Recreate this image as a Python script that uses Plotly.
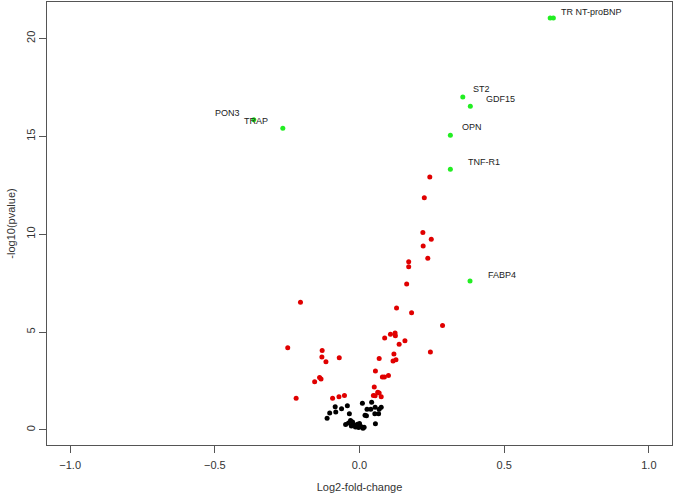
import plotly.graph_objects as go

# ---- data ----
green_labels = ["", "TR NT-proBNP", "ST2", "GDF15", "OPN", "TNF-R1", "FABP4", "PON3", "TRAP"]
green_x = [0.659, 0.670, 0.357, 0.383, 0.314, 0.314, 0.382, -0.365, -0.265]
green_y = [21.04, 21.04, 17.01, 16.54, 15.05, 13.31, 7.61, 15.84, 15.41]

red_x = [0.243, 0.224, 0.219, 0.248, 0.220, 0.236, 0.170, 0.170, 0.163, -0.204,
         0.128, 0.180, 0.287, 0.087, 0.107, 0.123, 0.124, 0.157, 0.137, -0.248,
         -0.129, 0.245, -0.130, 0.068, 0.119, -0.070, 0.126, 0.116, -0.116, 0.055,
         0.079, 0.086, 0.100, -0.138, -0.133, -0.155, 0.051, 0.063, 0.068, 0.048,
         0.054, 0.075, -0.219, -0.093, -0.071, -0.052]
red_y = [12.92, 11.86, 10.09, 9.74, 9.39, 8.77, 8.59, 8.33, 7.46, 6.52,
         6.23, 5.98, 5.33, 4.70, 4.89, 4.95, 4.81, 4.56, 4.38, 4.20,
         4.06, 3.98, 3.73, 3.65, 3.88, 3.69, 3.58, 3.52, 3.48, 3.01,
         2.70, 2.70, 2.78, 2.68, 2.60, 2.46, 2.19, 1.93, 1.88, 1.76,
         1.74, 1.69, 1.62, 1.62, 1.69, 1.76]

black_x = [-0.084, -0.062, -0.042, -0.103, -0.082, -0.035, -0.112,
           -0.048, -0.038, -0.031, -0.028, -0.019, -0.014, -0.007, 0.000, 0.005,
           0.012, 0.016, -0.024, -0.010, -0.003,
           0.010, 0.026, 0.019, 0.042, 0.039, 0.054, 0.068, 0.075, 0.053, 0.066,
           0.055, 0.024]
black_y = [1.18, 1.08, 1.23, 0.86, 0.92, 0.82, 0.60,
           0.28, 0.36, 0.48, 0.20, 0.26, 0.15, 0.29, 0.33, 0.17,
           0.09, 0.14, 0.41, 0.20, 0.13,
           1.36, 1.06, 0.75, 1.42, 1.06, 1.16, 1.06, 1.16, 0.83, 0.82,
           0.31, 0.72]

x_ticks = [-1.0, -0.5, 0.0, 0.5, 1.0]
y_ticks = [0, 5, 10, 15, 20]

# ---- label placement (style) ----
label_style = {
    "TR NT-proBNP": ("left", 6, 6),
    "ST2": ("left", 8, 8),
    "GDF15": ("left", 14, 7),
    "OPN": ("left", 10, 8),
    "TNF-R1": ("left", 16, 7),
    "FABP4": ("left", 16, 6),
    "PON3": ("right", -12, 7),
    "TRAP": ("right", -13, 7),
}

FONT = "Liberation Sans, Arial, sans-serif"
AX = "#555555"

fig = go.Figure()
fig.add_trace(go.Scatter(x=black_x, y=black_y, mode="markers",
                         marker=dict(color="#000000", size=5), hoverinfo="skip"))
fig.add_trace(go.Scatter(x=red_x, y=red_y, mode="markers",
                         marker=dict(color="#e00000", size=5), hoverinfo="skip"))
fig.add_trace(go.Scatter(x=green_x, y=green_y, mode="markers",
                         marker=dict(color="#22ee22", size=5), hoverinfo="skip"))

for lab, gx, gy in zip(green_labels, green_x, green_y):
    if not lab:
        continue
    anchor, dx, dy = label_style[lab]
    fig.add_annotation(x=gx, y=gy, text=lab, showarrow=False,
                       xanchor=anchor, yanchor="middle", xshift=dx, yshift=dy,
                       font=dict(family=FONT, size=9, color="#222222"))

axis_common = dict(showline=True, linecolor=AX, linewidth=1, mirror=True,
                   ticks="outside", ticklen=7, tickcolor=AX, tickwidth=1,
                   showgrid=False, zeroline=False, automargin=False,
                   tickfont=dict(family=FONT, size=11, color="#333333"),
                   title_font=dict(family=FONT, size=11, color="#333333"))

fig.update_xaxes(range=[-1.08, 1.08], tickvals=x_ticks, tickformat=".1f",
                 ticklabelstandoff=3,
                 title_text="Log2-fold-change", title_standoff=14, **axis_common)
fig.update_yaxes(range=[-0.77, 21.86], tickvals=y_ticks, tickangle=-90,
                 title_text="-log10(pvalue)", title_standoff=6, **axis_common)

fig.update_layout(width=675, height=493, showlegend=False,
                  margin=dict(l=47, r=3, t=2, b=48),
                  paper_bgcolor="white", plot_bgcolor="white",
                  font=dict(family=FONT))

fig.write_html("out.html", config={"displayModeBar": False},
               post_script="document.body.style.margin='0';document.body.style.overflow='hidden';")
